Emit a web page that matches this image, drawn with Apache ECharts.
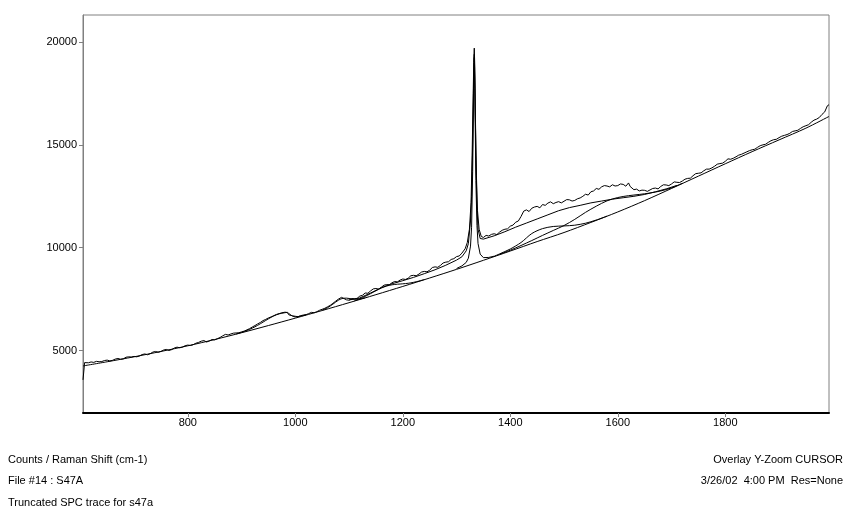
<!DOCTYPE html>
<html><head><meta charset="utf-8">
<script src="https://cdn.jsdelivr.net/npm/echarts/dist/echarts.min.js"></script>
<style>html,body{margin:0;padding:0;background:#fff}#c{width:856px;height:512px}</style>
</head><body><div id="c"></div>
<script>
// Axis tick labels
const xTicks = [800, 1000, 1200, 1400, 1600, 1800];
const yTicks = [5000, 10000, 15000, 20000];

// Measured spectrum (Raman shift cm-1 / counts)
const specShift = [605,608,610,615,620,625,630,635,640,645,650,655,660,665,670,675,680,685,690,695,700,705,710,715,720,725,730,735,740,745,750,755,760,765,770,775,780,785,790,795,800,805,810,815,820,825,830,835,840,845,850,855,860,865,870,875,880,885,890,895,900,905,910,915,920,925,930,935,940,945,950,955,960,965,970,975,978,981,983,985,988,990,995,1000,1005,1010,1015,1020,1025,1030,1035,1040,1045,1050,1055,1060,1065,1070,1075,1080,1083,1086,1090,1095,
1100,1105,1110,1115,1120,1125,1130,1135,1140,1145,1150,1155,1160,1165,1170,1175,1180,1185,1190,1195,1200,1205,1210,1215,1220,1225,1230,1235,1240,1245,1250,1255,1260,1265,1270,1275,1280,1285,1290,1295,1300,1305,1310,1313,1316,1320,1324,1327,1329,1331,1332,1333,1334,1335,1337,1339,1342,1346,1350,1355,1360,1365,1370,1375,1380,1385,1390,1395,1400,1405,1410,1415,1420,1425,1430,1435,1440,1445,1450,1455,1460,1465,1470,1475,1480,1485,1490,1495,1500,1505,1510,1515,1520,1525,1530,1535,1540,1545,1550,1555,1560,1565,1570,1575,1580,1585,1590,1595,1600,1605,1610,1615,1620,1623,1625,1630,1635,1640,1645,1650,1655,1660,1665,1670,1675,1680,1685,1690,1695,1700,1705,1710,1715,1720,1725,1730,1735,1740,1745,1750,1755,1760,1765,1770,1775,1780,1785,1790,1795,1800,1805,1810,1815,1820,1825,1830,1835,1840,1845,1850,1855,1860,1865,1870,1875,1880,1885,1890,1895,1900,1905,1910,1915,1920,1925,1930,1935,1940,1945,1950,1955,1960,1965,1970,1975,1980,1985,1990,1993];
const specCounts = [3580,4420,4440,4410,4450,4430,4480,4460,4470,4520,4540,4500,4530,4590,4620,4580,4600,4680,4700,4690,4720,4700,4740,4810,4840,4800,4850,4930,4960,4920,4960,5030,5060,5010,5050,5130,5170,5140,5170,5240,5270,5250,5290,5360,5400,5460,5490,5420,5470,5540,5520,5580,5640,5720,5790,5760,5810,5850,5860,5870,5910,5950,6010,6070,6150,6220,6300,6370,6460,6520,6590,6640,6700,6760,6800,6840,6880,6870,6960,6850,6740,6700,6690,6670,6650,6700,6730,6750,6800,6860,6840,6890,6960,7010,7060,7130,7200,7300,7400,7500,7560,7590,7540,7470,
7450,7530,7520,7540,7650,7690,7800,7790,7900,8000,8020,7990,8080,8180,8210,8200,8300,8360,8340,8430,8480,8460,8520,8640,8660,8640,8720,8820,8850,8830,8910,9040,9070,9050,9140,9260,9300,9320,9430,9470,9570,9600,9740,9800,9950,10250,10900,12200,14500,17500,19000,19700,18800,16500,13500,11800,10900,10550,10500,10600,10570,10650,10680,10640,10760,10850,10900,10920,11050,11100,11240,11300,11520,11780,11840,11760,11920,11980,12010,11940,12100,12060,12170,12230,12140,12200,12240,12180,12260,12340,12330,12270,12300,12380,12420,12500,12600,12560,12720,12760,12880,12840,12960,13020,13000,12960,13060,13000,13020,13100,13080,12990,13150,12980,12900,12820,12850,12760,12800,12790,12740,12810,12880,12900,12860,12980,13060,13050,13020,13100,13200,13180,13170,13240,13330,13370,13380,13500,13600,13620,13640,13740,13820,13820,13880,13960,14060,14090,14110,14200,14320,14300,14350,14420,14500,14540,14600,14660,14720,14760,14790,14880,14960,15000,15030,15120,15200,15250,15270,15350,15420,15460,15500,15560,15650,15680,15710,15800,15880,15930,15980,16100,16200,16250,16330,16480,16600,16900,16950];

// Fitted baseline
const baseShift = [605,650,700,750,800,850,900,950,1000,1050,1100,1150,1200,1250,1300,1350,1400,1450,1500,1550,1600,1650,1700,1750,1800,1850,1900,1950,1993];
const baseCounts = [4257,4460,4700,4960,5235,5540,5870,6220,6580,6950,7330,7720,8120,8530,8950,9390,9840,10300,10740,11230,11740,12290,12880,13480,14080,14670,15240,15810,16380];

// Fitted components (baseline + band)
const c980Shift = [890,900,910,920,930,940,950,960,970,980,985,990,995,1000,1010,1020];
const c980Counts = [5811,5888,5982,6095,6231,6387,6545,6688,6788,6840,6860,6760,6680,6640,6680,6740];
const c1090Shift = [1050,1060,1070,1080,1087,1095,1100,1110,1120,1130];
const c1090Counts = [6964,7085,7260,7447,7531,7552,7536,7501,7513,7569];
const c1170Shift = [1110,1120,1130,1140,1150,1160,1170,1180,1190,1200,1210,1220,1230,1240];
const c1170Counts = [7422,7521,7636,7769,7908,8040,8140,8200,8228,8247,8274,8319,8380,8453];
const c1333Shift = [1300,1310,1318,1322,1326,1328,1330,1332,1333,1334,1336,1338,1340,1344,1350,1360,1370];
const c1333Counts = [8990,9118,9288,9494,10080,10997,13714,18032,19240,17750,13267,11085,10202,9690,9520,9530,9590];
const c1455Shift = [1370,1380,1400,1420,1440,1460,1480,1500,1520,1540,1560,1580];
const c1455Counts = [9585,9700,9940,10254,10690,10930,11034,11060,11096,11192,11347,11536];
const c1590Shift = [1380,1400,1420,1440,1460,1480,1500,1520,1540,1560,1580,1600,1620,1640,1660,1680,1700,1720];
const c1590Counts = [9680,9880,10110,10350,10600,10840,11080,11380,11720,12020,12280,12440,12530,12590,12660,12760,12910,13130];

// Total fit
const fitShift = [1100,1120,1140,1160,1180,1200,1220,1240,1260,1280,1300,1310,1318,1322,1326,1328,1330,1332,1333,1334,1336,1338,1340,1344,1350,1370,1390,1410,1430,1450,1470,1490,1510,1530,1550,1570,1590,1610,1630,1650,1670,1690,1710];
const fitCounts = [7460,7560,7800,8060,8250,8400,8560,8740,8930,9150,9400,9560,9850,10200,11300,12500,15000,18500,19400,18300,14500,12000,10900,10450,10420,10580,10780,11000,11200,11400,11600,11800,11950,12060,12180,12270,12360,12430,12500,12590,12720,12860,13030];

function pairs(xs, ys) { return xs.map((x, i) => [x, ys[i]]); }
function line(name, xs, ys, smooth) {
  return { name, type: 'line', data: pairs(xs, ys), symbol: 'none', smooth: smooth || false,
    lineStyle: { color: '#000', width: 1 }, silent: true, clip: true, z: 2 };
}

const FONT = '11px "Liberation Sans", Arial, sans-serif';
const chart = echarts.init(document.getElementById('c'), null, { renderer: 'canvas' });
chart.setOption({
  animation: false,
  backgroundColor: '#fff',
  grid: { left: 83, right: 27, top: 15, bottom: 99, containLabel: false, outerBoundsMode: 'none',
          show: true, borderColor: '#808080', borderWidth: 1 },
  xAxis: {
    type: 'value', min: 605, max: 1993, splitNumber: 7,
    axisLine: { show: true, lineStyle: { color: '#000', width: 2 } },
    axisTick: { show: true, length: 4, lineStyle: { color: '#808080' }, customValues: xTicks },
    axisLabel: { color: '#000', fontFamily: '"Liberation Sans", Arial, sans-serif', fontSize: 11, margin: 4,
                 customValues: xTicks, formatter: v => String(v) },
    splitLine: { show: false }
  },
  yAxis: {
    type: 'value', min: 1970, max: 21310, splitNumber: 4,
    axisLine: { show: true, lineStyle: { color: '#808080', width: 1 } },
    axisTick: { show: true, length: 4, lineStyle: { color: '#808080' }, customValues: yTicks },
    axisLabel: { color: '#000', fontFamily: '"Liberation Sans", Arial, sans-serif', fontSize: 11, margin: 6,
                 customValues: yTicks, formatter: v => String(v) },
    splitLine: { show: false }
  },
  series: [
    line('Baseline', baseShift, baseCounts, 0.3),
    line('980', c980Shift, c980Counts, 0.3),
    line('1090', c1090Shift, c1090Counts, 0.3),
    line('1170', c1170Shift, c1170Counts, 0.3),
    line('1333', c1333Shift, c1333Counts, false),
    line('1455', c1455Shift, c1455Counts, 0.3),
    line('1590', c1590Shift, c1590Counts, 0.3),
    line('Fit', fitShift, fitCounts, false),
    line('S47A', specShift, specCounts, false)
  ],
  graphic: [
    { type: 'text', x: 8, y: 460, style: { text: 'Counts / Raman Shift (cm-1)', fill: '#000', font: FONT, textAlign: 'left', textVerticalAlign: 'middle' } },
    { type: 'text', x: 8, y: 481, style: { text: 'File #14 : S47A', fill: '#000', font: FONT, textAlign: 'left', textVerticalAlign: 'middle' } },
    { type: 'text', x: 8, y: 503, style: { text: 'Truncated SPC trace for s47a', fill: '#000', font: FONT, textAlign: 'left', textVerticalAlign: 'middle' } },
    { type: 'text', x: 843, y: 460, style: { text: 'Overlay Y-Zoom CURSOR', fill: '#000', font: FONT, textAlign: 'right', textVerticalAlign: 'middle' } },
    { type: 'text', x: 843, y: 481, style: { text: '3/26/02  4:00 PM  Res=None', fill: '#000', font: FONT, textAlign: 'right', textVerticalAlign: 'middle' } }
  ]
});
</script></body></html>
